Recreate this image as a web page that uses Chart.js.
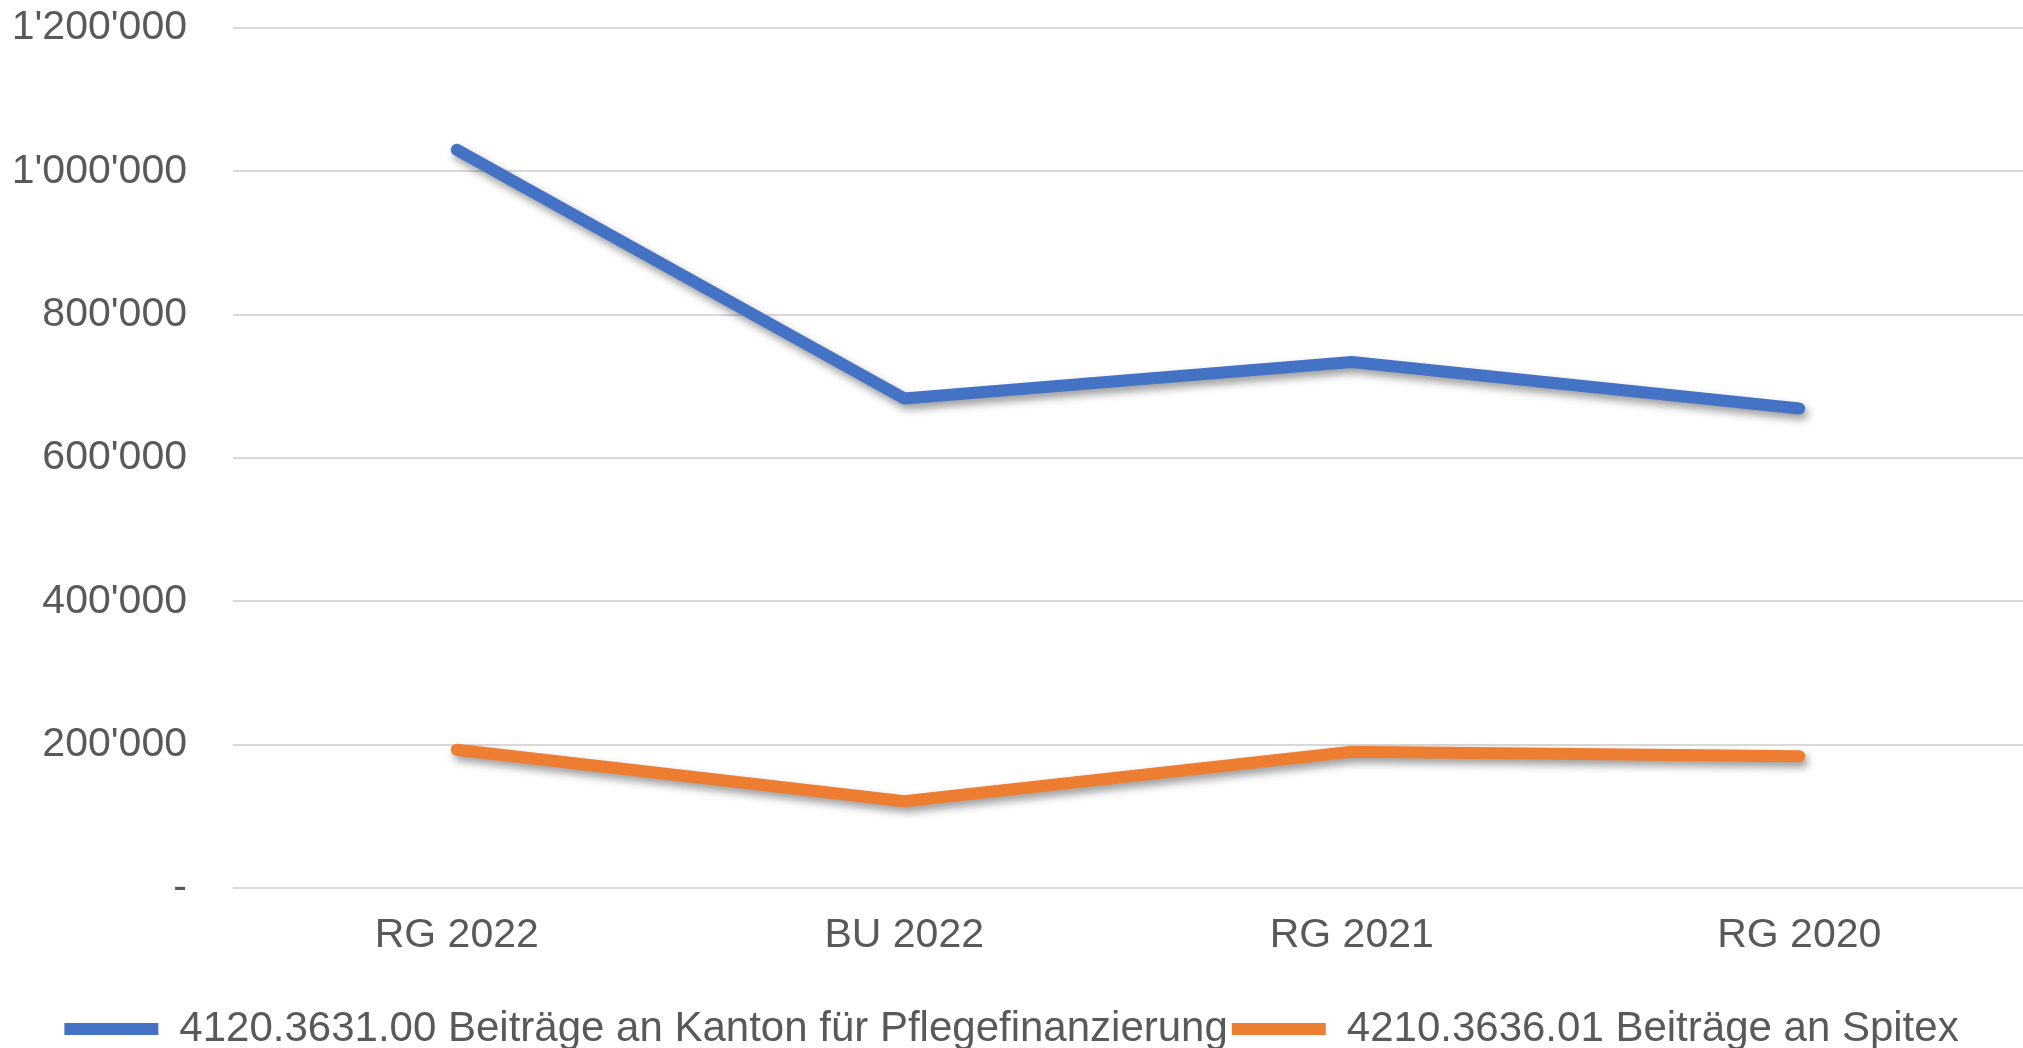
<!DOCTYPE html>
<html>
<head>
<meta charset="utf-8">
<script src="https://cdn.jsdelivr.net/npm/chart.js@4"></script>
<style>
  body { margin: 0; background: #fff; }
  #wrap { width: 2023px; height: 1048px; }
</style>
</head>
<body>
<div id="wrap"><canvas id="lineChart"></canvas></div>
<script>
const categories = ["RG 2022", "BU 2022", "RG 2021", "RG 2020"];
const pflegeValues = [1030000, 683000, 734000, 669000];
const spitexValues = [193000, 121000, 190000, 184000];
const seriesNames = [
  "4120.3631.00 Beiträge an Kanton für Pflegefinanzierung",
  "4210.3636.01 Beiträge an Spitex"
];

const textColor = "#595959";
const fontFamily = "'Liberation Sans', Arial, sans-serif";

// apostrophe thousands separator, zero shown as dash
function formatTick(v) {
  if (v === 0) return "-";
  return String(v).replace(/\B(?=(\d{3})+(?!\d))/g, "'");
}

// soft drop shadow under the lines
const lineShadow = {
  id: "lineShadow",
  beforeDatasetsDraw(chart) {
    const ctx = chart.ctx;
    ctx.save();
    ctx.shadowColor = "rgba(0,0,0,0.4)";
    ctx.shadowBlur = 8;
    ctx.shadowOffsetX = 3;
    ctx.shadowOffsetY = 5;
  },
  afterDatasetsDraw(chart) {
    chart.ctx.restore();
  }
};

new Chart(document.getElementById("lineChart"), {
  type: "line",
  data: {
    labels: categories,
    datasets: [
      {
        label: seriesNames[0],
        data: pflegeValues,
        borderColor: "#4472C4",
        backgroundColor: "#4472C4",
        borderWidth: 12,
        borderCapStyle: "round",
        borderJoinStyle: "round",
        pointRadius: 0,
        pointStyle: "line",
        tension: 0
      },
      {
        label: seriesNames[1],
        data: spitexValues,
        borderColor: "#ED7D31",
        backgroundColor: "#ED7D31",
        borderWidth: 12,
        borderCapStyle: "round",
        borderJoinStyle: "round",
        pointRadius: 0,
        pointStyle: "line",
        tension: 0
      }
    ]
  },
  options: {
    responsive: true,
    maintainAspectRatio: false,
    animation: false,
    layout: { padding: { top: 0, left: 0, right: 0, bottom: -12 } },
    plugins: {
      tooltip: { enabled: false },
      legend: {
        position: "bottom",
        labels: {
          usePointStyle: true,
          pointStyleWidth: 94,
          padding: 4,
          color: textColor,
          font: { family: fontFamily, size: 42 }
        }
      }
    },
    scales: {
      x: {
        offset: true,
        grid: { display: false, drawTicks: false },
        border: { display: false },
        ticks: {
          color: textColor,
          padding: 23,
          font: { family: fontFamily, size: 41 }
        },
        afterFit(scale) { scale.height = 116; }
      },
      y: {
        min: 0,
        max: 1200000,
        grid: { color: "#d9d9d9", lineWidth: 2, drawTicks: false },
        border: { display: false },
        ticks: {
          stepSize: 200000,
          color: textColor,
          padding: 46,
          font: { family: fontFamily, size: 41 },
          callback: (v) => formatTick(v)
        },
        afterFit(scale) {
          scale.width = 233;
          scale.paddingTop = 28;
          scale.paddingBottom = 0;
        }
      }
    }
  },
  plugins: [lineShadow]
});
</script>
</body>
</html>
